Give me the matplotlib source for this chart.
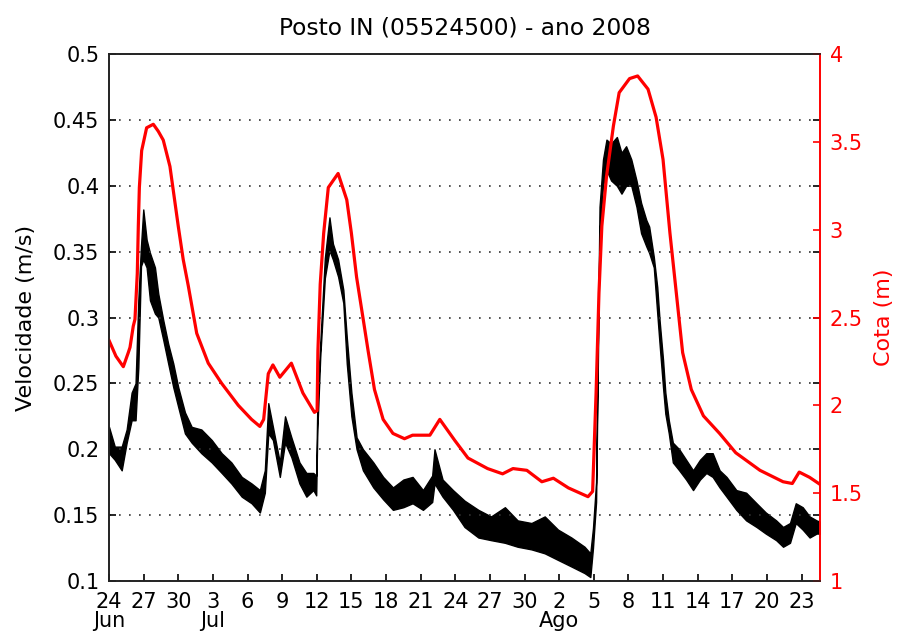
import numpy as np
import pandas as pd
import matplotlib
matplotlib.use('Agg')
import matplotlib.pyplot as plt

plt.rcParams['font.family'] = ['DejaVu Sans']
plt.rcParams['font.size'] = 15

inicio = pd.Timestamp('2008-06-24')

# cota (m) - dias contados a partir de 24/jun
cota_dias = [0.0, 0.6, 1.24, 1.67, 1.82, 2.1, 2.25, 2.45, 2.54, 2.63, 2.83, 3.26,
             3.84, 4.27, 4.7, 5.28, 6.0, 6.43, 6.87, 7.6, 8.6, 9.76, 11.2, 12.35,
             13.07, 13.4, 13.8, 14.2, 14.8, 15.8, 16.8, 17.8, 18.03, 18.1, 18.3,
             18.6, 19.0, 19.85, 20.6, 21.0, 21.45, 22.0, 22.45, 23.0, 23.75, 24.6,
             25.6, 26.3, 27.8, 28.66, 29.96, 31.1, 32.8, 34.1, 35.0, 36.2, 37.5,
             38.5, 39.8, 41.5, 41.9, 42.2, 42.45, 42.7, 43.1, 43.7, 44.2, 45.1,
             45.8, 46.7, 47.4, 48.0, 48.6, 49.15, 49.7, 50.45, 51.5, 52.9, 54.3,
             56.4, 58.4, 59.2, 59.8, 60.7, 61.6]
cota_m = [2.37, 2.28, 2.22, 2.30, 2.33, 2.45, 2.49, 2.75, 3.02, 3.24, 3.45, 3.58,
          3.60, 3.56, 3.51, 3.36, 3.02, 2.83, 2.68, 2.41, 2.24, 2.125, 2.0, 1.92,
          1.88, 1.92, 2.18, 2.23, 2.16, 2.24, 2.07, 1.96, 1.97, 2.31, 2.69,
          2.98, 3.24, 3.32, 3.17, 2.98, 2.73, 2.50, 2.31, 2.09, 1.92, 1.84,
          1.81, 1.83, 1.83, 1.92, 1.80, 1.70, 1.64, 1.61, 1.64, 1.63, 1.565,
          1.585, 1.53, 1.48, 1.51, 2.07, 2.64, 3.02, 3.30, 3.59, 3.78, 3.86,
          3.875, 3.80, 3.64, 3.40, 2.98, 2.64, 2.30, 2.09, 1.94, 1.84, 1.73,
          1.63, 1.565, 1.555, 1.62, 1.59, 1.55]

vel_dias = [0.0, 0.5, 1.1, 1.53, 1.96, 2.3, 2.54, 2.77, 2.97, 3.26, 3.55, 3.98,
            4.27, 4.7, 5.13, 5.57, 6.0, 6.58, 7.16, 8.0, 8.9, 9.76, 10.6, 11.5,
            12.35, 13.07, 13.5, 13.8, 14.2, 14.8, 15.25, 15.8, 16.5, 17.1, 17.7,
            17.95, 18.05, 18.3, 18.7, 19.1, 19.4, 19.85, 20.3, 20.6, 21.0, 21.45,
            22.0, 22.9, 23.75, 24.6, 25.5, 26.3, 27.2, 28.0, 28.2, 28.9, 29.8,
            30.8, 32.0, 33.1, 34.3, 35.4, 36.6, 37.75, 38.9, 40.06, 41.2, 41.7,
            41.93, 42.2, 42.5, 42.8, 43.1, 43.5, 44.0, 44.4, 44.8, 45.25, 45.7,
            46.1, 46.55, 46.8, 47.2, 47.5, 47.7, 48.0, 48.2, 48.5, 48.85, 49.4,
            50.0, 50.6, 51.2, 51.75, 52.3, 52.9, 53.5, 54.35, 55.2, 56.1, 56.9,
            57.8, 58.4, 59.0, 59.5, 60.1, 60.7, 61.3, 61.6]
vel_min = [0.197, 0.192, 0.184, 0.205, 0.222, 0.222, 0.262, 0.339, 0.344, 0.338, 0.313, 0.303,
           0.300, 0.283, 0.265, 0.247, 0.232, 0.212, 0.205, 0.197, 0.190, 0.182, 0.174, 0.164,
           0.159, 0.152, 0.167, 0.212, 0.207, 0.179, 0.205, 0.194, 0.174, 0.164, 0.169,
           0.165, 0.215, 0.270, 0.330, 0.351, 0.344, 0.331, 0.311, 0.265, 0.225, 0.200,
           0.184, 0.171, 0.162, 0.154, 0.156, 0.159, 0.154, 0.160, 0.174, 0.164, 0.154,
           0.141, 0.133, 0.131, 0.129, 0.126, 0.124, 0.121, 0.116, 0.111, 0.106, 0.103,
           0.125, 0.160, 0.364, 0.400, 0.412, 0.404, 0.400, 0.394, 0.400, 0.400, 0.384,
           0.364, 0.354, 0.349, 0.338, 0.303, 0.280, 0.247, 0.227, 0.212, 0.190, 0.184,
           0.177, 0.169, 0.177, 0.182, 0.179, 0.171, 0.164, 0.154, 0.146, 0.141, 0.136,
           0.131, 0.126, 0.129, 0.144, 0.139, 0.133, 0.136, 0.136]
vel_max = [0.217, 0.202, 0.202, 0.215, 0.243, 0.250, 0.313, 0.354, 0.382, 0.359, 0.349, 0.338,
           0.318, 0.298, 0.280, 0.265, 0.247, 0.228, 0.217, 0.215, 0.207, 0.197, 0.190, 0.179,
           0.174, 0.169, 0.184, 0.235, 0.217, 0.190, 0.225, 0.209, 0.190, 0.182, 0.182,
           0.180, 0.235, 0.280, 0.345, 0.376, 0.356, 0.344, 0.321, 0.285, 0.243, 0.209,
           0.200, 0.190, 0.179, 0.171, 0.177, 0.179, 0.169, 0.180, 0.200, 0.177, 0.169,
           0.161, 0.154, 0.149, 0.156, 0.146, 0.144, 0.149, 0.139, 0.133, 0.126, 0.121,
           0.140, 0.175, 0.384, 0.420, 0.435, 0.432, 0.437, 0.425, 0.430, 0.420, 0.404,
           0.387, 0.374, 0.369, 0.346, 0.323, 0.298, 0.268, 0.243, 0.222, 0.205, 0.200,
           0.192, 0.184, 0.192, 0.197, 0.197, 0.184, 0.179, 0.169, 0.167, 0.159, 0.152,
           0.146, 0.141, 0.144, 0.159, 0.156, 0.149, 0.146, 0.145]

vel_ticks = [0.1, 0.15, 0.2, 0.25, 0.3, 0.35, 0.4, 0.45, 0.5]
vel_labels = ['0.1', '0.15', '0.2', '0.25', '0.3', '0.35', '0.4', '0.45', '0.5']
cota_ticks = [1, 1.5, 2, 2.5, 3, 3.5, 4]
cota_labels = ['1', '1.5', '2', '2.5', '3', '3.5', '4']
meses = {6: 'Jun', 7: 'Jul', 8: 'Ago'}

t_cota = inicio + pd.to_timedelta(cota_dias, unit='D')
t_vel = inicio + pd.to_timedelta(vel_dias, unit='D')

fig = plt.figure(figsize=(9.01, 6.33), dpi=100)
ax1 = fig.add_axes([109 / 901, 1 - 581 / 633, (820 - 109) / 901, (581 - 54) / 633])
ax2 = ax1.twinx()

ax1.fill_between(t_vel, vel_min, vel_max, color='black', lw=1.0)

ax2.plot(t_cota, cota_m, color='red', lw=2.3)

# eixo x: marcas a cada 3 dias, mes na segunda linha
xt = pd.date_range('2008-06-24', '2008-08-23', freq='3D')
xl = []
ultimo_mes = None
for d in xt:
    if d.month != ultimo_mes:
        xl.append('%d\n%s' % (d.day, meses[d.month]))
        ultimo_mes = d.month
    else:
        xl.append('%d' % d.day)
ax1.set_xticks(xt)
ax1.set_xticklabels(xl, linespacing=0.9)
ax1.set_xlim(inicio, inicio + pd.Timedelta(days=61.6))

ax1.set_ylim(0.1, 0.5)
ax1.set_yticks(vel_ticks)
ax1.set_yticklabels(vel_labels)
ax1.yaxis.grid(True, linestyle=(0, (1, 5)), color='#333333', lw=1.2)
ax1.tick_params(axis='both', direction='in', length=5, width=1.2, pad=7)
ax1.tick_params(axis='y', right=True, labelright=False)
ax1.tick_params(axis='x', top=False, pad=8)
ax1.set_ylabel('Velocidade (m/s)', fontsize=16, labelpad=12)

ax2.set_ylim(1, 4)
ax2.set_yticks(cota_ticks)
ax2.set_yticklabels(cota_labels)
ax2.tick_params(axis='y', direction='in', length=5, width=1.2, pad=7,
                colors='red')
ax2.set_ylabel('Cota (m)', color='red', fontsize=16, labelpad=8)

for ax in (ax1, ax2):
    for s in ('left', 'top', 'bottom'):
        ax.spines[s].set_color('#222222')
        ax.spines[s].set_linewidth(1.2)
    ax.spines['right'].set_color('red')
    ax.spines['right'].set_linewidth(1.2)

ax1.set_title('Posto IN (05524500) - ano 2008', fontsize=16.8, pad=14)

fig.savefig('out.png', dpi=100)
